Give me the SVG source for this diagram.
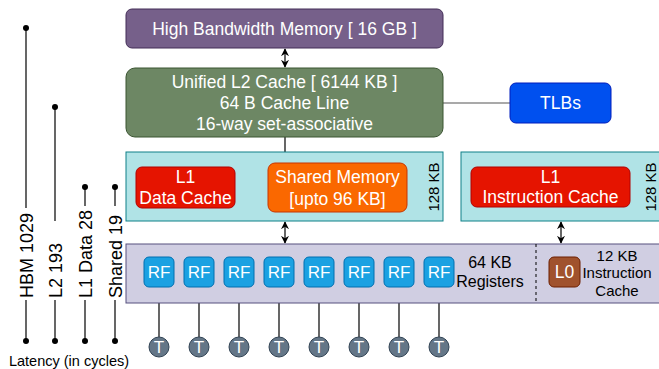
<svg xmlns="http://www.w3.org/2000/svg" width="659" height="369" viewBox="0 0 659 369">
<defs>
<marker id="ah" viewBox="0 0 10 10" refX="9" refY="5" markerWidth="8" markerHeight="8" markerUnits="userSpaceOnUse" orient="auto-start-reverse">
<path d="M0,0 L10,5 L0,10 L3,5 Z" fill="#000"/>
</marker>
</defs>
<style>
text{font-family:"Liberation Sans",Arial,sans-serif;}
.w{fill:#fff;font-size:17.5px;text-anchor:middle;dominant-baseline:central;}
.k{fill:#000;font-size:16px;text-anchor:middle;dominant-baseline:central;}
.lat{fill:#000;font-size:18px;}
.ln{stroke:#000;stroke-width:1.2;fill:none;}
.dot{fill:#000;}
.arr{stroke:#000;stroke-width:1.2;fill:none;marker-end:url(#ah);}
.darr{stroke:#000;stroke-width:1.2;fill:none;marker-end:url(#ah);marker-start:url(#ah);}
.rf rect{fill:#1ba1e2;stroke:#006eaf;}
.rf text{font-size:17px;}
.t circle{fill:#647687;stroke:#314354;}
.t text{font-size:17px;}
</style>

<g id="connectors">
<line class="darr" x1="285" y1="49" x2="285" y2="67"/>
<line class="ln" x1="285" y1="137" x2="285" y2="152"/>
<line class="ln" x1="443" y1="103" x2="510" y2="103" style="stroke:#555"/>
<line class="darr" x1="285" y1="222" x2="285" y2="243"/>
<line class="darr" x1="561" y1="222" x2="561" y2="243"/>
<line class="arr" x1="268" y1="188" x2="236" y2="188"/>
<line class="arr" x1="159" y1="337" x2="159" y2="288"/>
<line class="arr" x1="199" y1="337" x2="199" y2="288"/>
<line class="arr" x1="239" y1="337" x2="239" y2="288"/>
<line class="arr" x1="279" y1="337" x2="279" y2="288"/>
<line class="arr" x1="319" y1="337" x2="319" y2="288"/>
<line class="arr" x1="359" y1="337" x2="359" y2="288"/>
<line class="arr" x1="399" y1="337" x2="399" y2="288"/>
<line class="arr" x1="439" y1="337" x2="439" y2="288"/>
</g>

<g id="hbm">
<rect x="126" y="9" width="317" height="39" rx="6" fill="#76608a" stroke="#432d57"/>
<text class="w" x="284.5" y="28.5">High Bandwidth Memory [ 16 GB ]</text>
</g>

<g id="l2">
<rect x="126" y="68" width="317" height="69" rx="9" fill="#6d8764" stroke="#3a5431"/>
<text class="w" x="284.5" y="82">Unified L2 Cache [ 6144 KB ]</text>
<text class="w" x="284.5" y="103">64 B Cache Line</text>
<text class="w" x="284.5" y="124">16-way set-associative</text>
</g>

<g id="tlbs">
<rect x="510" y="83" width="101" height="40" rx="6" fill="#0050ef" stroke="#001dbc"/>
<text class="w" x="560.5" y="103">TLBs</text>
</g>

<g id="l1-block">
<rect x="126" y="152" width="317" height="69" fill="#b0e3e6" stroke="#0e8088"/>
<text class="k" style="font-size:15px" transform="translate(433.5,187) rotate(-90)" dominant-baseline="auto">128 KB</text>
</g>

<g id="l1-data">
<rect x="136" y="167" width="99" height="41" rx="6" fill="#e51400" stroke="#b20000"/>
<text class="w" x="185.5" y="177">L1</text>
<text class="w" x="185.5" y="198">Data Cache</text>
</g>

<g id="shared">
<rect x="268" y="163" width="139" height="49" rx="7" fill="#fa6800" stroke="#c73500"/>
<text class="w" x="337.5" y="177">Shared Memory</text>
<text class="w" x="337.5" y="199">[upto 96 KB]</text>
</g>

<g id="l1i-block">
<rect x="461" y="152" width="202" height="69" fill="#b0e3e6" stroke="#0e8088"/>
<text class="k" style="font-size:15px" transform="translate(650.5,187) rotate(-90)" dominant-baseline="auto">128 KB</text>
</g>

<g id="l1-instr">
<rect x="471" y="167" width="159" height="40" rx="6" fill="#e51400" stroke="#b20000"/>
<text class="w" x="550.5" y="177">L1</text>
<text class="w" x="550.5" y="197">Instruction Cache</text>
</g>

<g id="registers-band">
<rect x="126" y="244" width="537" height="59" fill="#d0cee2" stroke="#56517e"/>
<line x1="536" y1="244" x2="536" y2="303" stroke="#000" stroke-dasharray="3,3"/>
<text class="k" x="490" y="262">64 KB</text>
<text class="k" x="490" y="281">Registers</text>
<text class="k" style="font-size:15px" x="617" y="255">12 KB</text>
<text class="k" style="font-size:15px" x="617" y="272">Instruction</text>
<text class="k" style="font-size:15px" x="617" y="290">Cache</text>
</g>

<g id="l0">
<rect x="549" y="257" width="31" height="30" rx="5" fill="#a0522d" stroke="#6d1f00"/>
<text class="w" x="564.5" y="272">L0</text>
</g>

<g id="rf1" class="rf"><rect x="144" y="257" width="30" height="30" rx="5"/><text class="w" x="159" y="272">RF</text></g>
<g id="rf2" class="rf"><rect x="184" y="257" width="30" height="30" rx="5"/><text class="w" x="199" y="272">RF</text></g>
<g id="rf3" class="rf"><rect x="224" y="257" width="30" height="30" rx="5"/><text class="w" x="239" y="272">RF</text></g>
<g id="rf4" class="rf"><rect x="264" y="257" width="30" height="30" rx="5"/><text class="w" x="279" y="272">RF</text></g>
<g id="rf5" class="rf"><rect x="304" y="257" width="30" height="30" rx="5"/><text class="w" x="319" y="272">RF</text></g>
<g id="rf6" class="rf"><rect x="344" y="257" width="30" height="30" rx="5"/><text class="w" x="359" y="272">RF</text></g>
<g id="rf7" class="rf"><rect x="384" y="257" width="30" height="30" rx="5"/><text class="w" x="399" y="272">RF</text></g>
<g id="rf8" class="rf"><rect x="424" y="257" width="30" height="30" rx="5"/><text class="w" x="439" y="272">RF</text></g>

<g id="t1" class="t"><circle cx="159" cy="347" r="10"/><text class="w" x="159" y="347">T</text></g>
<g id="t2" class="t"><circle cx="199" cy="347" r="10"/><text class="w" x="199" y="347">T</text></g>
<g id="t3" class="t"><circle cx="239" cy="347" r="10"/><text class="w" x="239" y="347">T</text></g>
<g id="t4" class="t"><circle cx="279" cy="347" r="10"/><text class="w" x="279" y="347">T</text></g>
<g id="t5" class="t"><circle cx="319" cy="347" r="10"/><text class="w" x="319" y="347">T</text></g>
<g id="t6" class="t"><circle cx="359" cy="347" r="10"/><text class="w" x="359" y="347">T</text></g>
<g id="t7" class="t"><circle cx="399" cy="347" r="10"/><text class="w" x="399" y="347">T</text></g>
<g id="t8" class="t"><circle cx="439" cy="347" r="10"/><text class="w" x="439" y="347">T</text></g>

<g id="latency-hbm">
<line class="ln" x1="26" y1="28" x2="26" y2="208"/>
<line class="ln" x1="26" y1="300" x2="26" y2="341"/>
<circle class="dot" cx="26" cy="28" r="3"/>
<circle class="dot" cx="26" cy="341" r="3"/>
<text class="lat" transform="translate(32.5,298) rotate(-90)">HBM 1029</text>
</g>
<g id="latency-l2">
<line class="ln" x1="55" y1="107" x2="55" y2="221"/>
<line class="ln" x1="55" y1="300" x2="55" y2="341"/>
<circle class="dot" cx="55" cy="107" r="3"/>
<circle class="dot" cx="55" cy="341" r="3"/>
<text class="lat" transform="translate(61.5,298) rotate(-90)">L2 193</text>
</g>
<g id="latency-l1">
<line class="ln" x1="85" y1="187" x2="85" y2="206"/>
<line class="ln" x1="85" y1="300" x2="85" y2="341"/>
<circle class="dot" cx="85" cy="187" r="3"/>
<circle class="dot" cx="85" cy="341" r="3"/>
<text class="lat" transform="translate(91.5,298) rotate(-90)">L1 Data 28</text>
</g>
<g id="latency-shared">
<line class="ln" x1="115" y1="187" x2="115" y2="206"/>
<line class="ln" x1="115" y1="300" x2="115" y2="341"/>
<circle class="dot" cx="115" cy="187" r="3"/>
<circle class="dot" cx="115" cy="341" r="3"/>
<text class="lat" transform="translate(121.5,298) rotate(-90)">Shared 19</text>
</g>
<text x="69" y="366" style="font-size:14.5px;text-anchor:middle;fill:#000">Latency (in cycles)</text>
</svg>
